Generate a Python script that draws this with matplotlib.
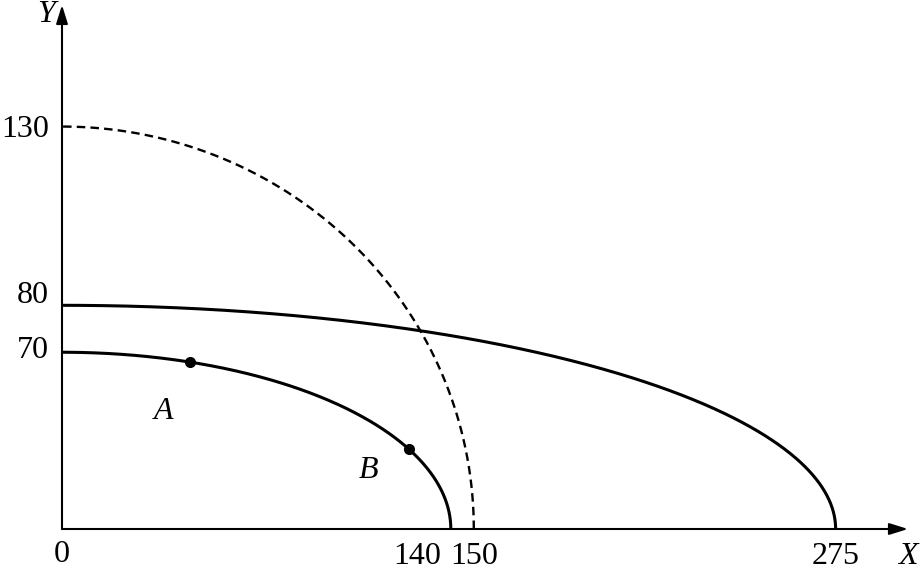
import numpy as np
import matplotlib
matplotlib.use("Agg")
import matplotlib.pyplot as plt

plt.rcParams["font.family"] = ["Liberation Serif", "DejaVu Serif"]

# axis intercepts of the three frontiers: inner, dashed, outer
curve_x = [140, 150, 275]
curve_y = [70, 130, 80]
curve_style = ["solid", "dashed", "solid"]

x_ticks = [0, 140, 150, 275]
y_ticks = [70, 80, 130]

# marked points on the inner frontier
point_names = ["A", "B"]
point_x = [46, 125]

# the textbook drawing is not to scale: pixel distance from the origin
# at which each labelled value sits
x_val = [0, 140, 150, 275]
x_pix = [0, 389, 412, 774]
y_val = [0, 70, 80, 130]
y_pix = [0, 177, 224, 403]


def piecewise(xp, fp):
    xp = np.asarray(xp, float)
    fp = np.asarray(fp, float)
    s0 = (fp[1] - fp[0]) / (xp[1] - xp[0])
    s1 = (fp[-1] - fp[-2]) / (xp[-1] - xp[-2])

    def f(v):
        v = np.asarray(v, float)
        out = np.interp(v, xp, fp)
        out = np.where(v < xp[0], fp[0] + (v - xp[0]) * s0, out)
        return np.where(v > xp[-1], fp[-1] + (v - xp[-1]) * s1, out)
    return f


fwd_x, inv_x = piecewise(x_val, x_pix), piecewise(x_pix, x_val)
fwd_y, inv_y = piecewise(y_val, y_pix), piecewise(y_pix, y_val)


def frontier_y(a, b, x):
    # quarter ellipse as drawn on the page
    u = fwd_x(x) / fwd_x(a)
    return inv_y(fwd_y(b) * np.sqrt(np.clip(1 - u ** 2, 0, None)))


fig = plt.figure(figsize=(9.23, 5.71), dpi=100)
ax = fig.add_axes([62 / 923, 42 / 571, 846 / 923, 524 / 571])
ax.set_xscale("function", functions=(fwd_x, inv_x))
ax.set_yscale("function", functions=(fwd_y, inv_y))
ax.set_xlim(0, 300)
ax.set_ylim(0, 164)
ax.axis("off")

t = np.linspace(0, np.pi / 2, 500)
for a, b, ls in zip(curve_x, curve_y, curve_style):
    xs = inv_x(fwd_x(a) * np.cos(t))
    ys = inv_y(fwd_y(b) * np.sin(t))
    if ls == "dashed":
        ax.plot(xs, ys, color="k", lw=1.7, linestyle=(0, (3.6, 2.2)))
    else:
        ax.plot(xs, ys, color="k", lw=2.2)

# axes with arrow heads
arrow = dict(arrowstyle="-|>,head_length=0.8,head_width=0.25", mutation_scale=14,
             lw=1.5, color="k", shrinkA=0, shrinkB=0)
ax.annotate("", xy=(300, 0), xytext=(0, 0), arrowprops=arrow, annotation_clip=False)
ax.annotate("", xy=(0, 164), xytext=(0, 0), arrowprops=arrow, annotation_clip=False)

fs = 23
x_label_dx = [0, -34, 0, 0]
x_label_dy = [-33, -35, -35, -35]
for v, dx, dy in zip(x_ticks, x_label_dx, x_label_dy):
    ax.annotate(str(v), xy=(v, 0), xytext=(dx, dy), textcoords="offset pixels",
                ha="center", va="baseline", fontsize=fs, annotation_clip=False)

y_label_dy = [-6, 2, -10]
for v, dy in zip(y_ticks, y_label_dy):
    ax.annotate(str(v), xy=(0, v), xytext=(-13, dy), textcoords="offset pixels",
                ha="right", va="baseline", fontsize=fs, annotation_clip=False)

ax.annotate("X", xy=(300, 0), xytext=(0, -35), textcoords="offset pixels",
            ha="center", va="baseline", fontsize=fs, fontstyle="italic",
            annotation_clip=False)
ax.annotate("Y", xy=(0, 164), xytext=(-16, -17), textcoords="offset pixels",
            ha="center", va="baseline", fontsize=fs, fontstyle="italic",
            annotation_clip=False)

# points A and B
name_dx = [-26, -41]
name_dy = [-57, -29]
for name, px, dx, dy in zip(point_names, point_x, name_dx, name_dy):
    py = frontier_y(curve_x[0], curve_y[0], px)
    ax.plot(px, py, "o", color="k", markersize=7)
    ax.annotate(name, xy=(px, py), xytext=(dx, dy), textcoords="offset pixels",
                ha="center", va="baseline", fontsize=fs, fontstyle="italic")

fig.savefig("out.png", dpi=100, facecolor="white")
